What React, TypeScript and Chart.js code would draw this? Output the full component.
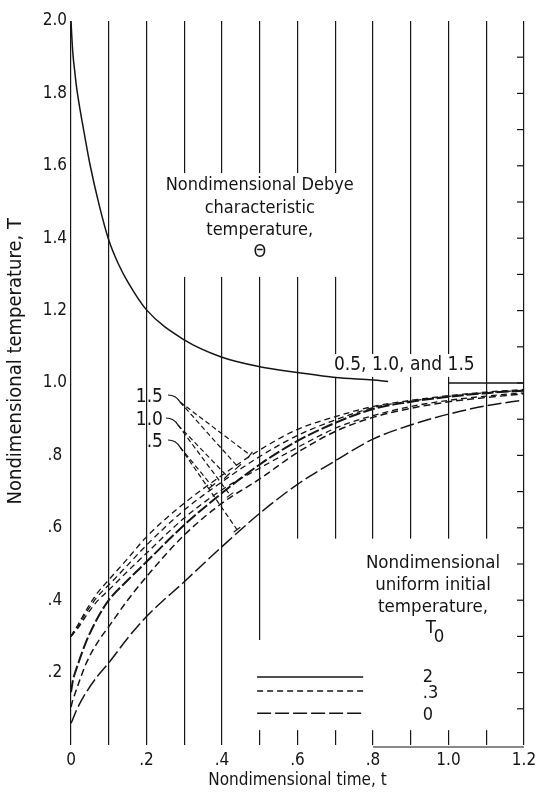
import React, { useEffect, useRef } from "react";
import { Chart, registerables } from "chart.js";

Chart.register(...registerables);

// ---------- data ----------
// nondimensional time grid for the lower family of curves
const T_GRID = [0, 0.005, 0.01, 0.02, 0.04, 0.07, 0.1, 0.15, 0.2, 0.3, 0.4, 0.5, 0.6, 0.7, 0.8, 0.9, 1.0, 1.1, 1.2];

// T0 = .3 curves (three Debye temperatures)
const S1 = [0.30, 0.31, 0.318, 0.335, 0.372, 0.42, 0.456, 0.515, 0.575, 0.668, 0.745, 0.815, 0.872, 0.907, 0.935, 0.952, 0.965, 0.975, 0.982];
const S2 = [0.30, 0.308, 0.315, 0.33, 0.365, 0.41, 0.442, 0.497, 0.552, 0.649, 0.727, 0.797, 0.855, 0.898, 0.932, 0.95, 0.963, 0.973, 0.98];
const S3 = [0.30, 0.306, 0.312, 0.325, 0.357, 0.398, 0.428, 0.48, 0.53, 0.627, 0.705, 0.765, 0.822, 0.875, 0.91, 0.935, 0.952, 0.964, 0.973];
// T0 = 0 curves (three Debye temperatures)
const Z1 = [0.146, 0.178, 0.197, 0.228, 0.285, 0.35, 0.40, 0.455, 0.506, 0.608, 0.696, 0.775, 0.84, 0.89, 0.928, 0.948, 0.962, 0.972, 0.979];
const Z2 = [0.105, 0.125, 0.14, 0.17, 0.225, 0.283, 0.327, 0.40, 0.465, 0.58, 0.668, 0.735, 0.808, 0.866, 0.905, 0.93, 0.948, 0.96, 0.97];
const Z3 = [0.06, 0.072, 0.085, 0.108, 0.145, 0.19, 0.227, 0.295, 0.355, 0.451, 0.548, 0.64, 0.72, 0.785, 0.845, 0.884, 0.914, 0.937, 0.953];

// T0 = 2 curve (starts at 2.0, decays to 1.0)
const THETA_T = [0, 0.002, 0.005, 0.01, 0.015, 0.024, 0.035, 0.05, 0.075, 0.1, 0.125, 0.15, 0.2, 0.3, 0.4, 0.5, 0.6, 0.7, 0.8, 0.84, 0.92, 1.0, 1.1, 1.2];
const THETA_V: (number | null)[] = [2.0, 1.96, 1.91, 1.86, 1.815, 1.755, 1.69, 1.605, 1.49, 1.395, 1.33, 1.28, 1.202, 1.119, 1.071, 1.045, 1.029, 1.015, 1.008, 1.004, null, 1.0, 1.0, 1.0];

// tick labels
const X_LABELS = ["0", ".2", ".4", ".6", ".8", "1.0", "1.2"];
const Y_LABELS = ["", ".2", ".4", ".6", ".8", "1.0", "1.2", "1.4", "1.6", "1.8", "2.0"];
const RIGHT_TICKS = [0.1, 0.2, 0.3, 0.4, 0.5, 0.6, 0.7, 0.8, 0.9, 1.0, 1.1, 1.2, 1.3, 1.4, 1.5, 1.6, 1.7, 1.8, 1.9];

// texts
const X_TITLE = "Nondimensional time, t";
const Y_TITLE = "Nondimensional temperature, T";
const DEBYE_LABEL = ["Nondimensional Debye", "characteristic", "temperature,", "Θ"];
const THETA_VALUES_LABEL = "0.5, 1.0, and 1.5";
const INITIAL_LABEL = ["Nondimensional", "uniform initial", "temperature,"];
const LEADER_LABELS = ["1.5", "1.0", ".5"];
const LEGEND_LABELS = ["2", ".3", "0"];

const FONT = '"DejaVu Sans Condensed", "DejaVu Sans", sans-serif';
const INK = "#151515";

const DASH_SHORT = [6, 4];
const DASH_LONG = [14, 4];

const annotations = {
  id: "annotations",
  beforeDatasetsDraw(chart: any) {
    const { ctx, scales } = chart;
    const X = (t: number) => scales.x.getPixelForValue(t);
    const Y = (v: number) => scales.y.getPixelForValue(v);
    ctx.save();
    ctx.fillStyle = "#ffffff";
    // boxes (t0, t1, v0, v1) that hide the grid behind the texts
    const boxes = [
      [0.28, 0.73, 1.293, 1.58],
      [0.683, 1.083, 1.017, 1.08],
      [0.55, 1.19, 0.041, 0.57],
      [0.48, 0.56, 0.041, 0.29],
    ];
    for (const [t0, t1, v0, v1] of boxes) {
      ctx.fillRect(X(t0), Y(v1), X(t1) - X(t0), Y(v0) - Y(v1));
    }
    ctx.restore();
  },
  afterDatasetsDraw(chart: any) {
    const { ctx, scales } = chart;
    const X = (t: number) => scales.x.getPixelForValue(t);
    const Y = (v: number) => scales.y.getPixelForValue(v);
    ctx.save();
    ctx.fillStyle = INK;
    ctx.strokeStyle = INK;
    ctx.textBaseline = "middle";

    // right axis inward ticks
    ctx.lineWidth = 1.2;
    ctx.setLineDash([]);
    const xr = X(1.2);
    for (const v of RIGHT_TICKS) {
      ctx.beginPath();
      ctx.moveTo(xr - 7, Y(v));
      ctx.lineTo(xr, Y(v));
      ctx.stroke();
    }
    // partial bottom line
    ctx.beginPath();
    ctx.moveTo(X(0.8), Y(0) + 2);
    ctx.lineTo(xr, Y(0) + 2);
    ctx.stroke();

    // y-axis title (rotated)
    ctx.save();
    ctx.font = `20px ${FONT}`;
    ctx.translate(15.5, Y(1.06));
    ctx.rotate(-Math.PI / 2);
    ctx.textAlign = "center";
    ctx.fillText(Y_TITLE, 0, 0);
    ctx.restore();

    // Debye label
    ctx.font = `18px ${FONT}`;
    ctx.textAlign = "center";
    const debyeV = [1.547, 1.483, 1.423, 1.362];
    DEBYE_LABEL.forEach((s, i) => ctx.fillText(s, X(0.5), Y(debyeV[i])));

    // "0.5, 1.0, and 1.5"
    ctx.font = `19px ${FONT}`;
    ctx.fillText(THETA_VALUES_LABEL, X(0.883), Y(1.05));

    // initial temperature label
    ctx.font = `18.5px ${FONT}`;
    const initV = [0.503, 0.442, 0.381];
    INITIAL_LABEL.forEach((s, i) => ctx.fillText(s, X(0.959), Y(initV[i])));
    ctx.textAlign = "left";
    ctx.fillText("T", X(0.94), Y(0.322));
    ctx.fillText("0", X(0.94) + 8, Y(0.297));

    // legend samples
    const legV = [0.188, 0.149, 0.088];
    const legDash = [[], DASH_SHORT, DASH_LONG];
    ctx.lineWidth = 1.5;
    legV.forEach((v, i) => {
      ctx.setLineDash(legDash[i]);
      ctx.beginPath();
      ctx.moveTo(X(0.493), Y(v));
      ctx.lineTo(X(0.774), Y(v));
      ctx.stroke();
    });
    ctx.setLineDash([]);
    ctx.font = `18px ${FONT}`;
    const legTextV = [0.188, 0.144, 0.083];
    LEGEND_LABELS.forEach((s, i) => ctx.fillText(s, X(0.932), Y(legTextV[i])));

    // leader labels, hooks and dashed leader lines
    ctx.font = `19px ${FONT}`;
    const labV = [0.9600, 0.8978, 0.8357];
    const starts = [
      [0.2887, 0.9475],
      [0.2834, 0.884],
      [0.2887, 0.8232],
    ];
    const ends = [
      [[0.4742, 0.8011], [0.4424, 0.768]],
      [[0.4132, 0.7431], [0.4212, 0.6906]],
      [[0.3735, 0.7155], [0.4397, 0.595]],
    ];
    ctx.textAlign = "right";
    LEADER_LABELS.forEach((s, i) => {
      ctx.fillText(s, X(0.2437), Y(labV[i]));
      const sx = X(starts[i][0]);
      const sy = Y(starts[i][1]);
      ctx.lineWidth = 1.2;
      ctx.setLineDash([]);
      ctx.beginPath();
      ctx.moveTo(sx - 12, sy - 7);
      ctx.quadraticCurveTo(sx - 4, sy - 7, sx, sy);
      ctx.stroke();
      for (const [et, ev] of ends[i]) {
        const ex = X(et);
        const ey = Y(ev);
        ctx.setLineDash([5, 3]);
        ctx.beginPath();
        ctx.moveTo(sx, sy);
        ctx.lineTo(ex, ey);
        ctx.stroke();
        // small crossbar at the end
        const dx = ex - sx;
        const dy = ey - sy;
        const len = Math.hypot(dx, dy);
        const px = -dy / len;
        const py = dx / len;
        ctx.setLineDash([]);
        ctx.beginPath();
        ctx.moveTo(ex - px * 4, ey - py * 4);
        ctx.lineTo(ex + px * 4, ey + py * 4);
        ctx.stroke();
      }
    });
    ctx.restore();
  },
};

function series(ys: (number | null)[], ts: number[]) {
  return ts.map((t, i) => ({ x: t, y: ys[i] }));
}

export default function App() {
  const ref = useRef<HTMLCanvasElement | null>(null);

  useEffect(() => {
    document.body.style.margin = "0";
    const canvas = ref.current;
    if (!canvas) return;
    const line = (data: any, dash: number[], width: number) => ({
      data,
      borderColor: INK,
      borderWidth: width,
      borderDash: dash,
      pointRadius: 0,
      fill: false,
      cubicInterpolationMode: "monotone" as const,
      spanGaps: false,
    });
    const chart = new Chart(canvas, {
      type: "line",
      data: {
        datasets: [
          line(series(THETA_V, THETA_T), [], 1.5),
          line(series(S1, T_GRID), DASH_SHORT, 1.3),
          line(series(S2, T_GRID), DASH_SHORT, 1.3),
          line(series(S3, T_GRID), DASH_SHORT, 1.3),
          line(series(Z1, T_GRID), [12, 3], 2),
          line(series(Z2, T_GRID), [7, 4], 1.5),
          line(series(Z3, T_GRID), DASH_LONG, 1.5),
        ],
      },
      options: {
        animation: false,
        responsive: false,
        devicePixelRatio: 1,
        layout: { padding: { top: 21, right: 18, left: 0, bottom: 0 } },
        plugins: { legend: { display: false }, tooltip: { enabled: false } },
        scales: {
          x: {
            type: "linear",
            min: 0,
            max: 1.2,
            afterFit: (s: any) => {
              s.height = 47;
            },
            ticks: {
              stepSize: 0.1,
              autoSkip: false,
              maxRotation: 0,
              padding: 5,
              color: INK,
              font: { family: FONT, size: 17 },
              callback: (v: any) => {
                const k = Math.round(Number(v) * 10);
                return k % 2 ? "" : X_LABELS[k / 2];
              },
            },
            grid: { color: INK, lineWidth: 1.2, drawTicks: false },
            border: { display: false },
            title: {
              display: true,
              text: X_TITLE,
              color: INK,
              font: { family: FONT, size: 17 },
              padding: { top: 0, bottom: 1 },
            },
          },
          y: {
            type: "linear",
            min: 0,
            max: 2,
            afterFit: (s: any) => {
              s.width = 71;
            },
            ticks: {
              stepSize: 0.2,
              crossAlign: "center",
              padding: 4,
              color: INK,
              font: { family: FONT, size: 17 },
              callback: (v: any) => Y_LABELS[Math.round(Number(v) * 5)],
            },
            grid: { display: false, drawTicks: false },
            border: { display: false },
          },
        },
      },
      plugins: [annotations],
    });
    return () => chart.destroy();
  }, []);

  return (
    <div style={{ position: "relative", width: 542, height: 792, background: "#fff" }}>
      <canvas ref={ref} width={542} height={792} style={{ width: 542, height: 792, display: "block" }} />
    </div>
  );
}
